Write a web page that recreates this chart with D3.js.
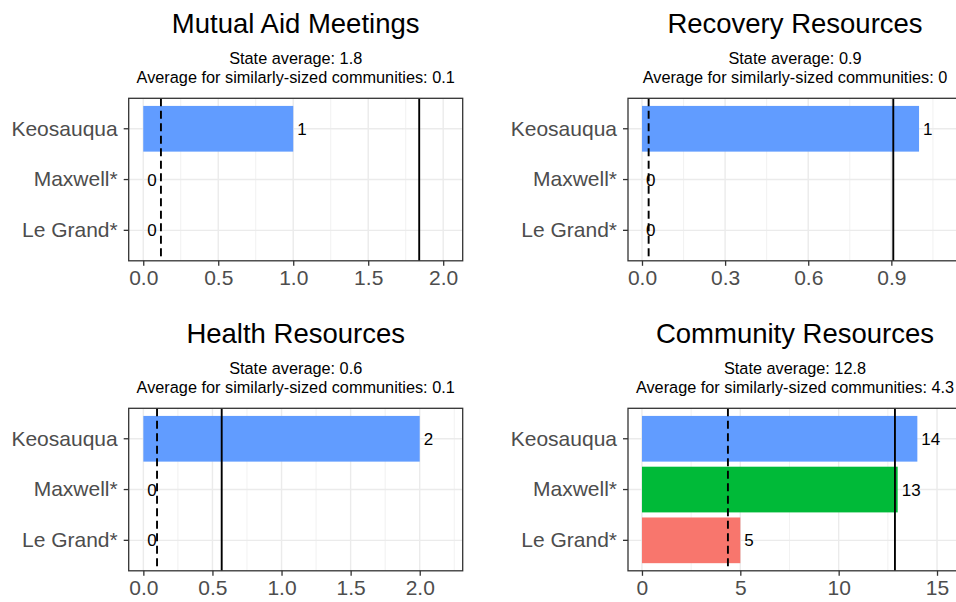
<!DOCTYPE html>
<html>
<head>
<meta charset="utf-8">
<script src="https://cdn.jsdelivr.net/npm/d3@7"></script>
<style>
  body { margin: 0; background: #fff; }
  svg { display: block; font-family: "Liberation Sans", Arial, sans-serif; }
</style>
</head>
<body>
<div id="chart"></div>
<script>
// --- data ---
const categories = ["Keosauqua", "Maxwell*", "Le Grand*"];
const barColors = ["#619CFF", "#00BA38", "#F8766D"];

const panelTitles = ["Mutual Aid Meetings", "Recovery Resources", "Health Resources", "Community Resources"];
const mutualAidValues = [1, 0, 0];
const recoveryValues = [1, 0, 0];
const healthValues = [2, 0, 0];
const communityValues = [14, 13, 5];

const stateAverages = [1.84, 0.907, 0.567, 12.86];
const stateAverageLabels = ["1.8", "0.9", "0.6", "12.8"];
const similarAverages = [0.118, 0.024, 0.099, 4.37];
const similarAverageLabels = ["0.1", "0", "0.1", "4.3"];

const xTicks = [
    [0, 0.5, 1, 1.5, 2],
    [0, 0.3, 0.6, 0.9],
    [0, 0.5, 1, 1.5, 2],
    [0, 5, 10, 15]
];
const xMinorTicks = [
    [0.25, 0.75, 1.25, 1.75],
    [0.15, 0.45, 0.75, 1.05],
    [0.25, 0.75, 1.25, 1.75, 2.25],
    [2.5, 7.5, 12.5]
];
const xDomains = [[-0.097, 2.13], [-0.0505, 1.155], [-0.106, 2.311], [-0.71, 16.27]];
const tickFormats = [".1f", ".1f", ".1f", "d"];

const panelValues = [mutualAidValues, recoveryValues, healthValues, communityValues];

// --- layout ---
const W = 956, H = 602;
const colX = [128.7, 628];
const rowY = [98.3, 408.3];
const panelW = 334, panelH = 162.5;

const svg = d3.select("#chart")
    .append("svg")
    .attr("width", W)
    .attr("height", H);

svg.append("rect").attr("width", W).attr("height", H).attr("fill", "#fff");

panelTitles.forEach((title, i) => {
    const px = colX[i % 2], py = rowY[Math.floor(i / 2)];
    const g = svg.append("g").attr("transform", `translate(${px},${py})`);

    const x = d3.scaleLinear().domain(xDomains[i]).range([0, panelW]);
    const y = d3.scaleBand().domain(categories).range([0, panelH])
        .paddingInner(0.1).paddingOuter(0.15);

    const rows = categories.map((c, k) => ({ name: c, value: panelValues[i][k], color: barColors[k] }));

    // grid
    g.selectAll(".minor").data(xMinorTicks[i]).enter().append("line")
        .attr("x1", d => x(d)).attr("x2", d => x(d))
        .attr("y1", 0).attr("y2", panelH)
        .attr("stroke", "#EBEBEB").attr("stroke-width", 0.7);
    g.selectAll(".major").data(xTicks[i]).enter().append("line")
        .attr("x1", d => x(d)).attr("x2", d => x(d))
        .attr("y1", 0).attr("y2", panelH)
        .attr("stroke", "#EBEBEB").attr("stroke-width", 1.4);
    g.selectAll(".hgrid").data(categories).enter().append("line")
        .attr("x1", 0).attr("x2", panelW)
        .attr("y1", d => y(d) + y.bandwidth() / 2).attr("y2", d => y(d) + y.bandwidth() / 2)
        .attr("stroke", "#EBEBEB").attr("stroke-width", 1.4);

    // bars
    g.selectAll(".bar").data(rows.filter(d => d.value > 0)).enter().append("rect")
        .attr("x", x(0))
        .attr("y", d => y(d.name))
        .attr("width", d => x(d.value) - x(0))
        .attr("height", y.bandwidth())
        .attr("fill", d => d.color);

    // reference lines
    g.append("line")
        .attr("x1", x(stateAverages[i])).attr("x2", x(stateAverages[i]))
        .attr("y1", 0).attr("y2", panelH)
        .attr("stroke", "#000").attr("stroke-width", 1.9);
    g.append("line")
        .attr("x1", x(similarAverages[i])).attr("x2", x(similarAverages[i]))
        .attr("y1", 0).attr("y2", panelH)
        .attr("stroke", "#000").attr("stroke-width", 1.9)
        .attr("stroke-dasharray", "8,4.5");

    // bar labels
    g.selectAll(".bar-label").data(rows).enter().append("text")
        .attr("x", d => x(d.value) + 4)
        .attr("y", d => y(d.name) + y.bandwidth() / 2)
        .attr("dy", "0.36em")
        .style("font-size", "17px")
        .style("fill", "#000")
        .text(d => d.value);

    // panel border
    g.append("rect")
        .attr("width", panelW).attr("height", panelH)
        .attr("fill", "none").attr("stroke", "#333333").attr("stroke-width", 1.3);

    // axes
    const xAxis = g.append("g")
        .attr("transform", `translate(0,${panelH})`)
        .call(d3.axisBottom(x).tickValues(xTicks[i]).tickFormat(d3.format(tickFormats[i]))
            .tickSize(5).tickPadding(4));
    const yAxis = g.append("g")
        .call(d3.axisLeft(y).tickSize(5).tickPadding(6));
    [xAxis, yAxis].forEach(ax => {
        ax.select(".domain").remove();
        ax.selectAll(".tick line").attr("stroke", "#333333").attr("stroke-width", 1.3);
        ax.selectAll(".tick text")
            .style("font-family", "'Liberation Sans', Arial, sans-serif")
            .style("font-size", "21px")
            .style("fill", "#4D4D4D");
    });

    // titles
    const cx = panelW / 2;
    g.append("text")
        .attr("x", cx).attr("y", -65)
        .attr("text-anchor", "middle")
        .style("font-size", "27.5px")
        .style("fill", "#000")
        .text(title);
    g.append("text")
        .attr("x", cx).attr("y", -34.3)
        .attr("text-anchor", "middle")
        .style("font-size", "16.3px")
        .style("fill", "#000")
        .text("State average: " + stateAverageLabels[i]);
    g.append("text")
        .attr("x", cx).attr("y", -15.6)
        .attr("text-anchor", "middle")
        .style("font-size", "16.3px")
        .style("fill", "#000")
        .text("Average for similarly-sized communities: " + similarAverageLabels[i]);
});
</script>
</body>
</html>
